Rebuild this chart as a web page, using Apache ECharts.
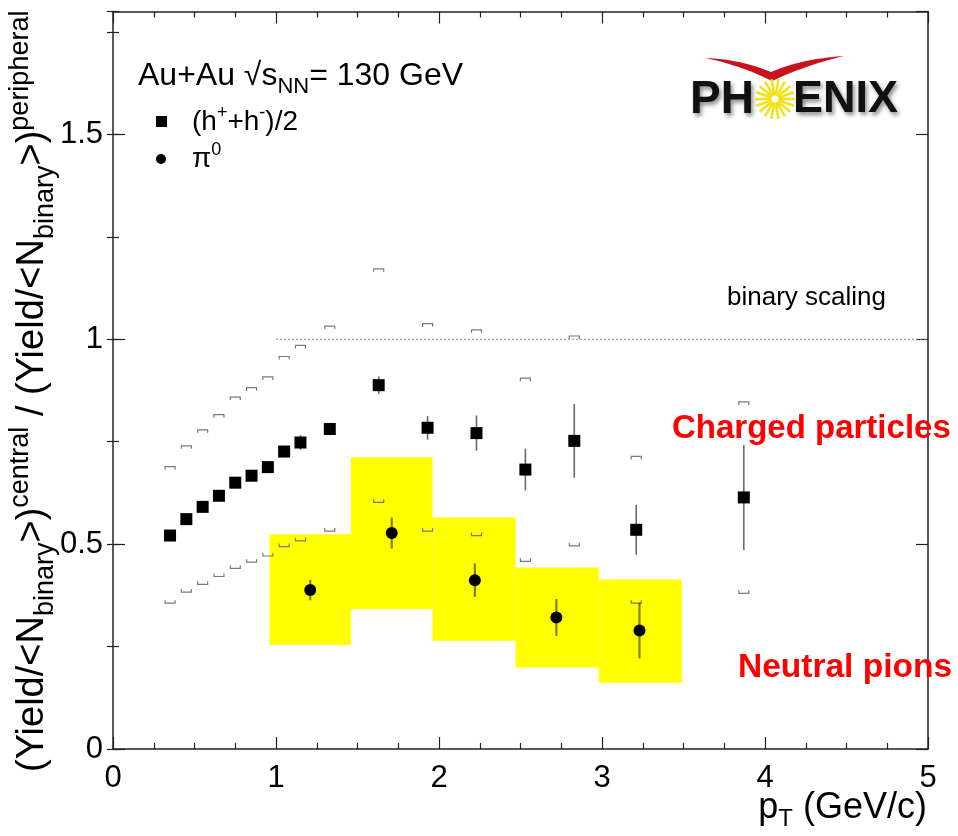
<!DOCTYPE html>
<html><head><meta charset="utf-8">
<script src="https://cdn.jsdelivr.net/npm/echarts/dist/echarts.min.js"></script>
<style>html,body{margin:0;padding:0;background:#fff}#c{width:958px;height:836px}</style>
</head><body><div id="c"></div>
<script>
// ---- data ----
const chargedPt      = [0.35,0.45,0.55,0.65,0.75,0.85,0.95,1.05,1.15,1.33,1.63,1.93,2.23,2.53,2.83,3.21,3.87];
const chargedRatio   = [0.521,0.561,0.591,0.618,0.650,0.667,0.688,0.726,0.748,0.781,0.888,0.784,0.771,0.682,0.752,0.535,0.614];
const chargedStat    = [0.008,0.008,0.008,0.008,0.009,0.009,0.010,0.012,0.018,0.015,0.021,0.029,0.043,0.051,0.090,0.061,0.128];
const chargedSysHigh = [0.689,0.740,0.779,0.816,0.859,0.882,0.908,0.958,0.985,1.032,1.172,1.038,1.023,0.905,1.008,0.714,0.847];
const chargedSysLow  = [0.356,0.383,0.402,0.421,0.441,0.456,0.471,0.494,0.508,0.532,0.602,0.532,0.521,0.458,0.496,0.356,0.380];

const pi0Pt      = [1.21,1.71,2.22,2.72,3.23];
const pi0Ratio   = [0.388,0.527,0.412,0.321,0.289];
const pi0Stat    = [0.025,0.038,0.041,0.045,0.068];
const pi0SysHigh = [0.524,0.712,0.565,0.443,0.414];
const pi0SysLow  = [0.254,0.342,0.264,0.199,0.162];
const pi0BinLow  = [0.96,1.46,1.96,2.47,2.98];
const pi0BinHigh = [1.46,1.96,2.47,2.98,3.49];

const binaryScaling = [[1,1],[5,1]];
const xTickLabels = ['0','1','2','3','4','5'];
const yTickLabels = {0:'0',0.5:'0.5',1:'1',1.5:'1.5'};

// ---- chart ----
const FONT = '"Liberation Sans", Arial, Helvetica, sans-serif';
const chart = echarts.init(document.getElementById('c'), null, {renderer:'canvas'});

function errRender(color, width){
  return function(params, api){
    const x = api.value(0), lo = api.value(1), hi = api.value(2);
    const p1 = api.coord([x, lo]), p2 = api.coord([x, hi]);
    return {type:'line', shape:{x1:p1[0],y1:p1[1],x2:p2[0],y2:p2[1]}, style:{stroke:color, lineWidth:width}};
  };
}
function bracketRender(params, api){
  const x = api.value(0), lo = api.value(1), hi = api.value(2);
  const a = api.coord([x, hi]), b = api.coord([x, lo]);
  const w = 5, h = 3;
  const st = {stroke:'#7a7a7a', lineWidth:1.2, fill:null};
  return {type:'group', children:[
    {type:'polyline', shape:{points:[[a[0]-w,a[1]+h],[a[0]-w,a[1]],[a[0]+w,a[1]],[a[0]+w,a[1]+h]]}, style:st},
    {type:'polyline', shape:{points:[[b[0]-w,b[1]-h],[b[0]-w,b[1]],[b[0]+w,b[1]],[b[0]+w,b[1]-h]]}, style:st}
  ]};
}
function boxRender(params, api){
  const p1 = api.coord([api.value(0), api.value(3)]);
  const p2 = api.coord([api.value(1), api.value(2)]);
  return {type:'rect', shape:{x:p1[0], y:p1[1], width:p2[0]-p1[0], height:p2[1]-p1[1]}, style:{fill:'#ffff00'}};
}

const axisLineStyle = {color:'#222', width:1.5};
const xBase = {type:'value', min:0, max:5, interval:1, splitLine:{show:false},
  axisLine:{show:true, onZero:false, lineStyle:axisLineStyle},
  axisTick:{show:true, inside:true, length:12, lineStyle:{color:'#222', width:1.2}},
  minorTick:{show:true, splitNumber:4, length:6, lineStyle:{color:'#222', width:1.2}}};
const yBase = {type:'value', min:0, max:1.8, splitLine:{show:false}};

// logo decoration helpers
function quad(p0, p1, p2, n){
  const out = [];
  for (let i = 0; i <= n; i++){
    const t = i / n, u = 1 - t;
    out.push([u*u*p0[0] + 2*u*t*p1[0] + t*t*p2[0], u*u*p0[1] + 2*u*t*p1[1] + t*t*p2[1]]);
  }
  return out;
}
const swoosh = [].concat(
  quad([705,58],[740,59],[771,72],12),
  quad([771,72],[800,59],[844,56],12),
  quad([844,56],[806,65],[772,81],12),
  quad([772,81],[740,65],[705,58],12)
);
const rays = [];
const sunC = [775, 99];
for (let k = 0; k < 18; k++) {
  const a = k * Math.PI * 2 / 18;
  rays.push({type:'line', shape:{x1:sunC[0]+Math.cos(a)*5, y1:sunC[1]+Math.sin(a)*5, x2:sunC[0]+Math.cos(a)*20, y2:sunC[1]+Math.sin(a)*20},
    style:{stroke:'#f2e21a', lineWidth:2.6}});
}
const shadow = {textShadowColor:'rgba(0,0,0,0.45)', textShadowBlur:4, textShadowOffsetX:2, textShadowOffsetY:3};

const option = {
  backgroundColor:'#fff',
  animation:false,
  grid:{left:113, right:30, top:11.5, bottom:87, containLabel:false, outerBoundsMode:'none'},
  xAxis:[
    Object.assign({}, xBase, {position:'bottom',
      axisLabel:{show:true, fontSize:31, color:'#000', fontFamily:FONT, margin:14,
        formatter:(v)=>xTickLabels[Math.round(v)] || ''}}),
    Object.assign({}, xBase, {position:'top', axisLabel:{show:false}})
  ],
  yAxis:[
    Object.assign({}, yBase, {position:'left', interval:0.5,
      axisLine:{show:true, onZero:false, lineStyle:axisLineStyle},
      axisTick:{show:true, inside:true, length:12, lineStyle:{color:'#222', width:1.2}},
      axisLabel:{show:true, fontSize:31, color:'#000', fontFamily:FONT, margin:10, showMaxLabel:false,
        formatter:(v)=>yTickLabels[Math.round(v*100)/100] || ''}}),
    Object.assign({}, yBase, {position:'left', interval:0.25,
      axisLine:{show:false}, axisLabel:{show:false},
      axisTick:{show:true, inside:true, length:6, lineStyle:{color:'#222', width:1.2}}}),
    Object.assign({}, yBase, {position:'right', interval:0.5,
      axisLine:{show:true, onZero:false, lineStyle:axisLineStyle}, axisLabel:{show:false},
      axisTick:{show:true, inside:true, length:12, lineStyle:{color:'#222', width:1.2}}}),
    Object.assign({}, yBase, {position:'right', interval:0.25,
      axisLine:{show:false}, axisLabel:{show:false},
      axisTick:{show:true, inside:true, length:6, lineStyle:{color:'#222', width:1.2}}})
  ],
  series:[
    {type:'custom', name:'pi0 sys', z:1, renderItem:boxRender, encode:{x:[0,1], y:[2,3]},
      data: pi0Pt.map((x,i)=>[pi0BinLow[i], pi0BinHigh[i], pi0SysLow[i], pi0SysHigh[i]])},
    {type:'custom', name:'charged sys', z:3, renderItem:bracketRender, encode:{x:0, y:[1,2]},
      data: chargedPt.map((x,i)=>[x, chargedSysLow[i], chargedSysHigh[i]])},
    {type:'line', name:'binary scaling', z:3, data:binaryScaling, symbol:'none',
      lineStyle:{color:'#8a8a8a', width:1, type:[2,2]}},
    {type:'custom', name:'charged stat', z:4, renderItem:errRender('#6a6a6a',1.6), encode:{x:0, y:[1,2]},
      data: chargedPt.map((x,i)=>[x, chargedRatio[i]-chargedStat[i], chargedRatio[i]+chargedStat[i]])},
    {type:'custom', name:'pi0 stat', z:4, renderItem:errRender('rgba(0,0,0,0.5)',2.2), encode:{x:0, y:[1,2]},
      data: pi0Pt.map((x,i)=>[x, pi0Ratio[i]-pi0Stat[i], pi0Ratio[i]+pi0Stat[i]])},
    {type:'scatter', name:'(h+ + h-)/2', z:5, symbol:'rect', symbolSize:12, itemStyle:{color:'#000', opacity:1},
      data: chargedPt.map((x,i)=>[x, chargedRatio[i]])},
    {type:'scatter', name:'pi0', z:5, symbol:'circle', symbolSize:12, itemStyle:{color:'#000', opacity:1},
      data: pi0Pt.map((x,i)=>[x, pi0Ratio[i]])}
  ],
  graphic:[
    // y axis title
    {type:'text', x:33, y:772, rotation:Math.PI/2, z:10,
      style:{text:'(Yield/<N{sub|binary}>){sup|central} / (Yield/<N{sub|binary}>){sup|peripheral}',
        fontSize:38, fontFamily:FONT, fill:'#000', lineHeight:52,
        align:'left', textAlign:'left', verticalAlign:'middle', textVerticalAlign:'middle',
        rich:{sub:{fontSize:27, fontFamily:FONT, fill:'#000', lineHeight:26, verticalAlign:'bottom'},
              sup:{fontSize:27, fontFamily:FONT, fill:'#000', lineHeight:26, verticalAlign:'top'}}}},
    // x axis title
    {type:'text', x:927, y:808, z:10,
      style:{text:'p{sub|T} (GeV/c)', fontSize:36, fontFamily:FONT, fill:'#000', lineHeight:46,
        align:'right', textAlign:'right', verticalAlign:'middle', textVerticalAlign:'middle',
        rich:{sub:{fontSize:24, fontFamily:FONT, fill:'#000', lineHeight:22, verticalAlign:'bottom'}}}},
    // header text
    {type:'text', x:138, y:76, z:10,
      style:{text:'Au+Au \u221As{sub|NN}= 130 GeV', fontSize:32, fontFamily:FONT, fill:'#000', lineHeight:44,
        align:'left', textAlign:'left', verticalAlign:'middle', textVerticalAlign:'middle',
        rich:{sub:{fontSize:22, fontFamily:FONT, fill:'#000', lineHeight:22, verticalAlign:'bottom'}}}},
    // legend markers
    {type:'rect', z:10, shape:{x:156, y:116, width:11, height:11}, style:{fill:'#000'}},
    {type:'circle', z:10, shape:{cx:161, cy:159, r:5}, style:{fill:'#000'}},
    {type:'text', x:192, y:122, z:10,
      style:{text:'(h{sup|+}+h{sup|-})/2', fontSize:28, fontFamily:FONT, fill:'#000', lineHeight:36,
        align:'left', textAlign:'left', verticalAlign:'middle', textVerticalAlign:'middle',
        rich:{sup:{fontSize:18, fontFamily:FONT, fill:'#000', lineHeight:18, verticalAlign:'top'}}}},
    {type:'text', x:192, y:159, z:10,
      style:{text:'\u03C0{sup|0}', fontSize:28, fontFamily:FONT, fill:'#000', lineHeight:36,
        align:'left', textAlign:'left', verticalAlign:'middle', textVerticalAlign:'middle',
        rich:{sup:{fontSize:18, fontFamily:FONT, fill:'#000', lineHeight:18, verticalAlign:'top'}}}},
    // annotations
    {type:'text', x:727, y:298, z:10,
      style:{text:'binary scaling', fontSize:26, fontFamily:FONT, fill:'#000',
        align:'left', textAlign:'left', verticalAlign:'middle', textVerticalAlign:'middle'}},
    {type:'text', x:672, y:429, z:10,
      style:{text:'Charged particles', fontSize:33, fontWeight:'bold', fontFamily:FONT, fill:'#ff0000',
        align:'left', textAlign:'left', verticalAlign:'middle', textVerticalAlign:'middle'}},
    {type:'text', x:738, y:668, z:10,
      style:{text:'Neutral pions', fontSize:33.5, fontWeight:'bold', fontFamily:FONT, fill:'#ff0000',
        align:'left', textAlign:'left', verticalAlign:'middle', textVerticalAlign:'middle'}},
    // PHENIX logo
    {type:'group', z:10, children:[
      {type:'polygon', shape:{points:swoosh}, style:{fill:'#c8121c'}},
      {type:'text', x:690, y:100, style:Object.assign({text:'PH', fontSize:46, fontWeight:'bold', fontFamily:FONT, fill:'#111',
        align:'left', textAlign:'left', verticalAlign:'middle', textVerticalAlign:'middle'}, shadow)},
      {type:'text', x:793, y:100, style:Object.assign({text:'ENIX', fontSize:45, fontWeight:'bold', fontFamily:FONT, fill:'#111',
        align:'left', textAlign:'left', verticalAlign:'middle', textVerticalAlign:'middle'}, shadow)},
      {type:'group', children:rays},
      {type:'circle', shape:{cx:sunC[0], cy:sunC[1], r:4.5}, style:{fill:'#fff', stroke:'#f2e21a', lineWidth:2}}
    ]}
  ]
};
chart.setOption(option);
</script></body></html>
